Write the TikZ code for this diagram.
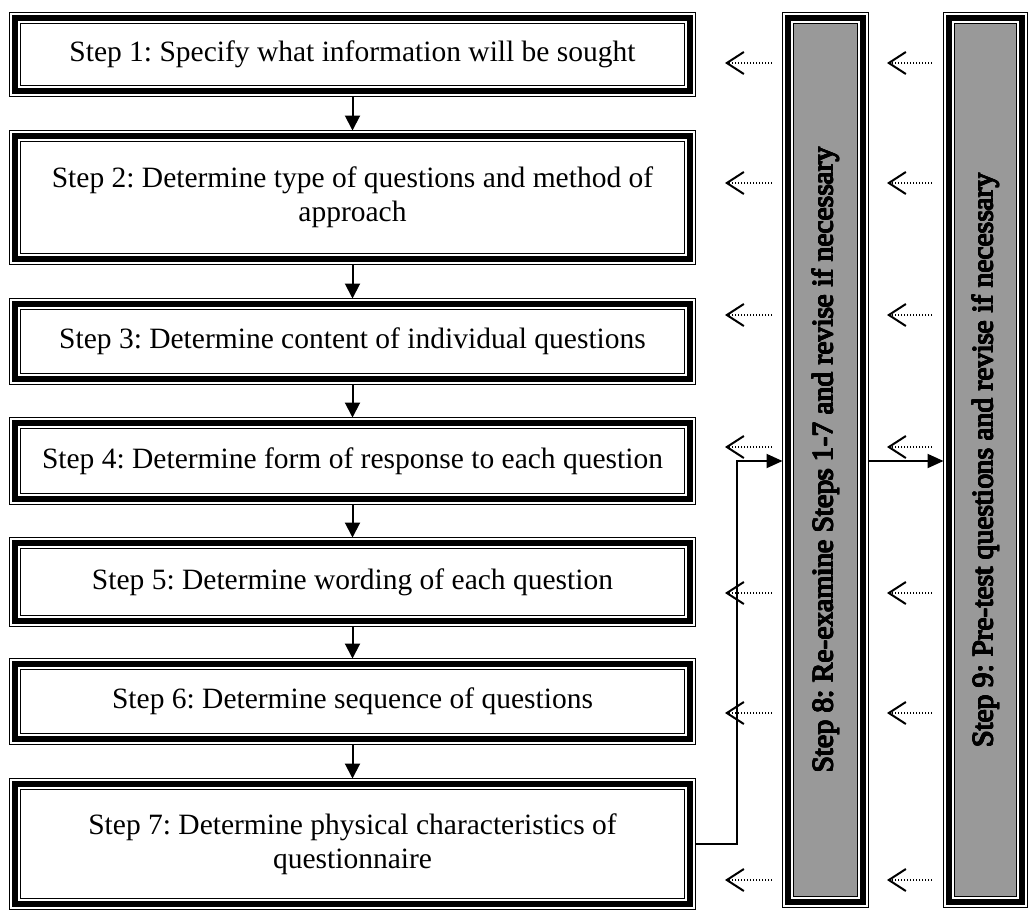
\documentclass[tikz,border=0pt]{standalone}
\usepackage{fontspec}
\setmainfont{Liberation Serif}
\usetikzlibrary{arrows.meta}
\frenchspacing

% white letters with a thin black outline
\newsavebox\halobox
\newcommand\hoff[2]{\rlap{\kern#1\raisebox{#2}{\usebox\halobox}}}
\newcommand\haloed[1]{\sbox\halobox{#1}\leavevmode
  {\color{black}\hoff{-.6pt}{0pt}\hoff{.6pt}{0pt}\hoff{0pt}{.6pt}\hoff{0pt}{-.6pt}%
   \hoff{-.45pt}{.45pt}\hoff{.45pt}{.45pt}\hoff{-.45pt}{-.45pt}\hoff{.45pt}{-.45pt}}%
  {\color{white}\usebox\halobox}}

\definecolor{speckle}{gray}{0.6}

\tikzset{
  x=1pt, y=-1pt,
  txt/.style={font=\fontsize{29.5}{34}\selectfont},
  % thin - thick - thin frame
  tripleframe/.style={draw, line width=1.3pt, inner sep=0pt, outer sep=0pt,
    align=center, txt,
    path picture={
      \draw[line width=5.5pt]
        ([shift={(5.5pt,-5.5pt)}]path picture bounding box.north west) rectangle
        ([shift={(-5.5pt,5.5pt)}]path picture bounding box.south east);
      \draw[line width=1.6pt]
        ([shift={(11pt,-11pt)}]path picture bounding box.north west) rectangle
        ([shift={(-11pt,11pt)}]path picture bounding box.south east);
    }},
  stepbox/.style={tripleframe, minimum width=686pt},
  column/.style={draw, line width=1.3pt, inner sep=0pt, outer sep=0pt,
    path picture={
      \fill[speckle]
        ([shift={(11pt,-11pt)}]path picture bounding box.north west) rectangle
        ([shift={(-11pt,11pt)}]path picture bounding box.south east);
      \draw[line width=5.5pt]
        ([shift={(5.5pt,-5.5pt)}]path picture bounding box.north west) rectangle
        ([shift={(-5.5pt,5.5pt)}]path picture bounding box.south east);
      \draw[line width=1.6pt]
        ([shift={(11pt,-11pt)}]path picture bounding box.north west) rectangle
        ([shift={(-11pt,11pt)}]path picture bounding box.south east);
    }},
  coltext/.style={txt, rotate=90, anchor=east, inner sep=0pt},
  flow/.style={line width=2pt, -{Triangle[length=15pt,width=15pt]}},
  feed/.style={line width=2pt, -{Triangle[length=16pt,width=14pt]}},
  back/.style={line width=1.1pt, dash pattern=on 1.1pt off 1.9pt,
    -{Straight Barb[length=17pt,width=22pt,line width=2pt]}},
}

\begin{document}
\begin{tikzpicture}
\useasboundingbox (0,0) rectangle (1033,911);

% main sequence of steps
\node[stepbox, minimum height=84pt]  (b1) at (352.5,54.5) {Step 1: Specify what information will be sought};
\node[stepbox, minimum height=134pt] (b2) at (352.5,197.5) {Step 2: Determine type of questions and method of\\approach};
\node[stepbox, minimum height=86pt]  (b3) at (352.5,341.5) {Step 3: Determine content of individual questions};
\node[stepbox, minimum height=87pt]  (b4) at (352.5,461) {Step 4: Determine form of response to each question};
\node[stepbox, minimum height=89pt]  (b5) at (352.5,582) {Step 5: Determine wording of each question};
\node[stepbox, minimum height=86pt]  (b6) at (352.5,701.5) {Step 6: Determine sequence of questions};
\node[stepbox, minimum height=131pt] (b7) at (352.5,844) {Step 7: Determine physical characteristics of\\questionnaire};

% review columns
\node[column, minimum width=86pt, minimum height=895pt] (c8) at (825.5,460) {};
\node[column, minimum width=84pt, minimum height=895pt] (c9) at (985.5,460) {};
\node[coltext] (t8) at (825.5,147) {\haloed{Step 8: Re-examine Steps 1-7 and revise if necessary}};
\node[coltext] (t9) at (985.5,173) {\haloed{Step 9: Pre-test questions and revise if necessary}};

% forward flow
\foreach \a/\b in {b1/b2,b2/b3,b3/b4,b4/b5,b5/b6,b6/b7}
  \draw[flow] (\a.south) -- (\b.north);
\draw[feed] (b7.east) -- ++(41,0) |- (c8.west |- b4.center);
\draw[feed] (c8.east |- b4.center) -- (c9.west |- b4.center);

% feedback arrows
\foreach \i/\y in {1/63,2/183,3/315,4/447,5/593,6/713,7/880}{
  \coordinate (p\i) at (772,\y);
  \coordinate (q\i) at (725,\y);
  \coordinate (r\i) at (932,\y);
  \coordinate (s\i) at (887,\y);
  \draw[back] (p\i) -- (q\i);
  \draw[back] (r\i) -- (s\i);
}
\end{tikzpicture}
\end{document}
